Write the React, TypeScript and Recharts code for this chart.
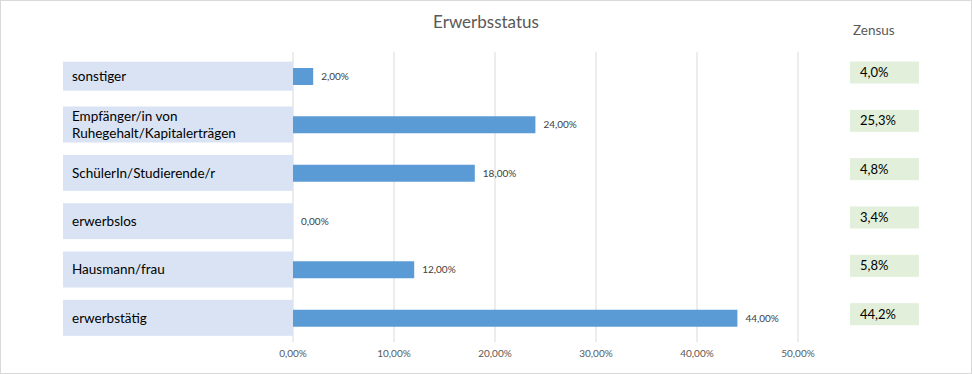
import { BarChart, Bar, XAxis, YAxis, CartesianGrid, LabelList } from "recharts";

const categories = [
  "sonstiger",
  "Empfänger/in von\nRuhegehalt/Kapitalerträgen",
  "SchülerIn/Studierende/r",
  "erwerbslos",
  "Hausmann/frau",
  "erwerbstätig",
];
const shares = [2, 24, 18, 0, 12, 44];
const zensus = ["4,0%", "25,3%", "4,8%", "3,4%", "5,8%", "44,2%"];
const xTicks = [0, 10, 20, 30, 40, 50];

const data = categories.map((name, i) => ({ name, value: shares[i], zensus: zensus[i] }));

const FONT = "Lato, 'Open Sans', sans-serif";
const pct = (v: number) => v.toFixed(2).replace(".", ",") + "%";

function CategoryTick(props: any) {
  const { y, payload, index } = props;
  const lines = String(payload.value).split("\n");
  const h = index === 0 ? 29 : 36;
  return (
    <g>
      <rect x={62} y={y - h / 2} width={230} height={h} fill="#dae3f3" />
      {lines.map((line, i) => (
        <text
          key={i}
          x={71}
          y={y + (i - (lines.length - 1) / 2) * 17}
          dy="0.35em"
          fontSize={13.5}
          fontFamily={FONT}
          fill="#000"
        >
          {line}
        </text>
      ))}
    </g>
  );
}

function ZensusLabel(props: any) {
  const { y, height, value } = props;
  const cy = y + height / 2 - 4;
  return (
    <g>
      <rect x={849} y={cy - 11} width={69} height={22} fill="#e2efda" />
      <text x={859} y={cy} dy="0.35em" fontSize={13} fontFamily={FONT} fill="#000">
        {value}
      </text>
    </g>
  );
}

export default function App() {
  return (
    <div
      style={{
        position: "absolute",
        left: 0,
        top: 0,
        width: 972,
        height: 374,
        border: "1px solid #d9d9d9",
        boxSizing: "border-box",
        background: "#fff",
        fontFamily: FONT,
      }}
    >
      <div
        style={{
          position: "absolute",
          left: 0,
          width: 970,
          top: 10,
          textAlign: "center",
          fontSize: 17,
          color: "#595959",
        }}
      >
        Erwerbsstatus
      </div>
      <div style={{ position: "absolute", left: 852, top: 21, fontSize: 13.5, color: "#595959" }}>Zensus</div>
      <BarChart
        width={970}
        height={372}
        data={data}
        layout="vertical"
        margin={{ top: 51, right: 173, bottom: 9, left: 0 }}
      >
        <CartesianGrid horizontal={false} stroke="#d9d9d9" />
        <XAxis
          type="number"
          domain={[0, 50]}
          ticks={xTicks}
          tickFormatter={pct}
          axisLine={false}
          tickLine={false}
          height={22}
          tick={{ fontSize: 10, fill: "#595959", fontFamily: FONT }}
        />
        <YAxis
          type="category"
          dataKey="name"
          width={292}
          axisLine={false}
          tickLine={false}
          tick={<CategoryTick />}
          interval={0}
        />
        <Bar
          dataKey="value"
          fill="#5b9bd5"
          barSize={17}
          minPointSize={(v: any) => (Number(v) === 0 ? 0.01 : 0)}
          isAnimationActive={false}
        >
          <LabelList
            dataKey="value"
            position="right"
            offset={8}
            formatter={(v: any) => pct(Number(v))}
            style={{ fontSize: 10, fill: "#404040", fontFamily: FONT }}
          />
          <LabelList dataKey="zensus" content={<ZensusLabel />} />
        </Bar>
      </BarChart>
    </div>
  );
}
